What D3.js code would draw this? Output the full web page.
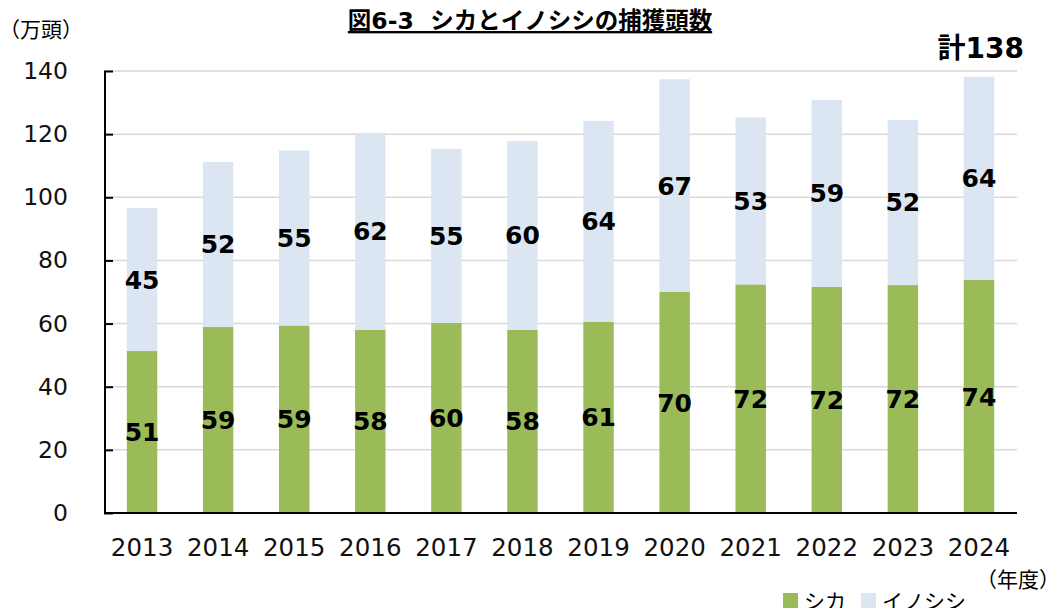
<!DOCTYPE html>
<html lang="ja">
<head>
<meta charset="UTF-8">
<title>図6-3 シカとイノシシの捕獲頭数</title>
<script src="https://d3js.org/d3.v7.min.js"></script>
<style>
body { margin: 0; background: #fff; }
svg { display: block; font-family: "DejaVu Sans", Verdana, sans-serif; }
.jp { font-family: "Noto Sans CJK JP", sans-serif; }
.mix { font-family: "DejaVu Sans", "Noto Sans CJK JP", sans-serif; white-space: pre; }
</style>
</head>
<body>
<svg id="chart" width="1052" height="608"></svg>
<script>
const years = ["2013", "2014", "2015", "2016", "2017", "2018", "2019", "2020", "2021", "2022", "2023", "2024"];
const shika = [51.3, 58.9, 59.4, 58.0, 60.2, 58.0, 60.5, 70.0, 72.4, 71.6, 72.2, 73.8];
const inoshishi = [45.3, 52.3, 55.4, 62.4, 55.1, 59.8, 63.7, 67.4, 52.9, 59.2, 52.3, 64.4];
const yTicks = [0, 20, 40, 60, 80, 100, 120, 140];
const totalLabel = "計138";

const width = 1052, height = 608;
const margin = { top: 71, right: 35, bottom: 95, left: 104 };

const svg = d3.select("#chart");

const x = d3.scaleBand().domain(years).range([margin.left, width - margin.right]).paddingInner(0.6).paddingOuter(0.3);
const y = d3.scaleLinear().domain([0, 140]).range([height - margin.bottom, margin.top]);

// gridlines
svg.append("g")
    .selectAll("line")
    .data(yTicks.filter(d => d > 0))
    .join("line")
    .attr("x1", margin.left)
    .attr("x2", width - margin.right)
    .attr("y1", d => y(d))
    .attr("y2", d => y(d))
    .attr("stroke", "#d9d9d9")
    .attr("stroke-width", 1.5);

const series = [
    { name: "シカ", values: shika, color: "#9bbb59", base: years.map(() => 0) },
    { name: "イノシシ", values: inoshishi, color: "#dce6f2", base: shika }
];

series.forEach(s => {
    const g = svg.append("g");
    g.selectAll("rect")
        .data(years)
        .join("rect")
        .attr("x", d => x(d))
        .attr("width", x.bandwidth())
        .attr("y", (d, i) => y(s.base[i] + s.values[i]))
        .attr("height", (d, i) => y(s.base[i]) - y(s.base[i] + s.values[i]))
        .attr("fill", s.color);
    g.selectAll("text")
        .data(years)
        .join("text")
        .attr("x", d => x(d) + x.bandwidth() / 2)
        .attr("y", (d, i) => y(s.base[i] + s.values[i] / 2))
        .attr("dy", "0.36em")
        .attr("text-anchor", "middle")
        .attr("font-size", 25)
        .attr("font-weight", "bold")
        .attr("fill", "#000")
        .text((d, i) => Math.round(s.values[i]));
});

// y axis
const yAxis = svg.append("g")
    .attr("transform", `translate(${margin.left},0)`)
    .call(d3.axisLeft(y).tickValues(yTicks).tickSize(-9).tickPadding(36));
yAxis.select(".domain").attr("stroke", "#000").attr("stroke-width", 2).attr("d", `M1,${y(140)}V${y(0)}`);
yAxis.selectAll(".tick line").attr("stroke", "#000").attr("stroke-width", 2);
yAxis.selectAll(".tick text").attr("font-size", 23.5).attr("fill", "#111").attr("font-family", "DejaVu Sans, sans-serif");

// x axis
const xAxis = svg.append("g")
    .attr("transform", `translate(0,${y(0)})`)
    .call(d3.axisBottom(x).tickSize(0).tickPadding(26));
xAxis.select(".domain").attr("stroke", "#000").attr("stroke-width", 2).attr("d", `M${margin.left},0H${width - margin.right}`);
xAxis.selectAll(".tick text").attr("font-size", 24.5).attr("fill", "#111").attr("font-family", "DejaVu Sans, sans-serif");

// title
svg.append("text")
    .attr("class", "mix")
    .attr("x", 530).attr("y", 29)
    .attr("text-anchor", "middle")
    .attr("font-size", 23.5)
    .attr("font-weight", "bold")
    .attr("text-decoration", "underline")
    .text("図6-3  シカとイノシシの捕獲頭数");

svg.append("text")
    .attr("class", "jp")
    .attr("x", -1).attr("y", 37)
    .attr("font-size", 21)
    .text("（万頭）");

svg.append("text")
    .attr("class", "mix")
    .attr("x", 1024).attr("y", 58)
    .attr("text-anchor", "end")
    .attr("font-size", 28)
    .attr("font-weight", "bold")
    .text(totalLabel);

svg.append("text")
    .attr("class", "jp")
    .attr("x", 1060).attr("y", 587)
    .attr("text-anchor", "end")
    .attr("font-size", 21)
    .text("（年度）");

// legend
const legend = svg.append("g").attr("transform", "translate(783,590)");
const lx = [0, 78];
series.forEach((s, i) => {
    legend.append("rect").attr("x", lx[i]).attr("y", 3).attr("width", 15).attr("height", 15).attr("fill", s.color);
    legend.append("text").attr("class", "jp").attr("x", lx[i] + 21).attr("y", 19)
        .attr("font-size", 21).text(s.name);
});
</script>
</body>
</html>
